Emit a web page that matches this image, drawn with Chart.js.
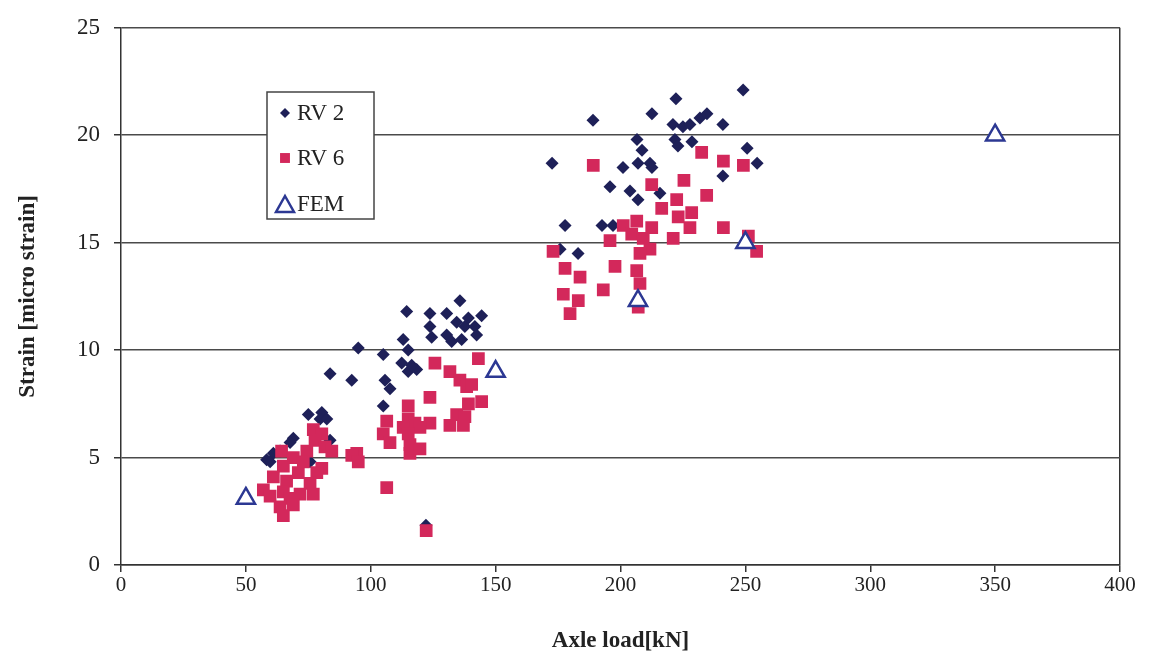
<!DOCTYPE html>
<html>
<head>
<meta charset="utf-8">
<title>Strain vs axle load</title>
<script src="https://cdn.jsdelivr.net/npm/chart.js@4/dist/chart.umd.min.js"></script>
<style>
  html, body { margin: 0; padding: 0; background: #fff; }
  #wrap { width: 1150px; height: 661px; position: relative; }
</style>
</head>
<body>
<div id="wrap"><canvas id="strainChart"></canvas></div>
<script>
// values
const rv2Load = [172.6, 189, 212.6, 222.2, 249.1, 221, 225, 227.8, 231.8, 234.6, 241, 206.6, 221.8, 223, 228.6, 208.6, 250.7, 254.7,
  201, 207, 211.8, 212.6, 241, 195.8, 203.8, 207, 215.8, 177.8, 192.6, 197, 183, 175.8,
  114.4, 123.7, 130.4, 135.7, 139.1, 144.4, 134.4, 137.7, 141.7, 123.7, 142.4, 113, 124.4, 130.4, 132.4, 136.4,
  95, 115, 105, 112.4, 115, 118.4, 116.4, 92.4, 105.7, 107.7, 105, 83.7,
  75, 80.4, 79.7, 82.4, 69, 67.7, 83.7, 61, 58.3, 63.7, 75.7, 59.7, 122.1];
const rv2Strain = [18.7, 20.7, 21.0, 21.7, 22.1, 20.5, 20.4, 20.5, 20.8, 21.0, 20.5, 19.8, 19.8, 19.5, 19.7, 19.3, 19.4, 18.7,
  18.5, 18.7, 18.7, 18.5, 18.1, 17.6, 17.4, 17.0, 17.3, 15.8, 15.8, 15.8, 14.5, 14.7,
  11.8, 11.7, 11.7, 12.3, 11.5, 11.6, 11.3, 11.1, 11.1, 11.1, 10.7, 10.5, 10.6, 10.7, 10.4, 10.5,
  10.1, 10.0, 9.8, 9.4, 9.0, 9.1, 9.3, 8.6, 8.6, 8.2, 7.4, 8.9,
  7.0, 7.1, 6.8, 6.8, 5.9, 5.7, 5.8, 5.2, 4.9, 5.3, 4.8, 4.8, 1.85];

const rv6Load = [189.1, 232.5, 241.2, 249.2, 212.5, 225.4, 234.5, 222.5, 216.5, 228.5, 223.1, 227.8, 241.2, 201.1, 206.5, 212.5,
  204.5, 209.1, 221.1, 195.8, 211.8, 207.8, 251.2, 254.5, 197.8, 206.5, 183.8, 177.8, 207.8, 193.1, 183.1, 177.1, 179.8, 207.1, 173,
  125.7, 143.1, 131.7, 135.7, 138.4, 140.4, 123.7, 144.4, 139.1, 115, 134.4, 137.7, 131.7, 137.1, 115, 106.4, 117.7, 123.7,
  113, 119.7, 105, 115, 107.7, 115.7, 94.4, 115.7, 119.7, 92.4, 95, 106.4, 122.2,
  77, 80.4, 77.7, 81.7, 74.4, 84.4, 64.3, 69, 65, 73, 80.4, 71, 78.4, 61, 66.3, 75.7, 57, 59.7, 65, 67.7, 71.7, 77, 63.7, 69, 65];
const rv6Strain = [18.6, 19.2, 18.8, 18.6, 17.7, 17.9, 17.2, 17.0, 16.6, 16.4, 16.2, 15.7, 15.7, 15.8, 16.0, 15.7,
  15.4, 15.2, 15.2, 15.1, 14.7, 14.5, 15.3, 14.6, 13.9, 13.7, 13.4, 13.8, 13.1, 12.8, 12.3, 12.6, 11.7, 12.0, 14.6,
  9.4, 9.6, 9.0, 8.6, 8.3, 8.4, 7.8, 7.6, 7.5, 7.4, 7.0, 6.9, 6.5, 6.5, 6.8, 6.7, 6.6, 6.6,
  6.4, 6.4, 6.1, 6.1, 5.7, 5.6, 5.2, 5.2, 5.4, 5.1, 4.8, 3.6, 1.6,
  6.3, 6.1, 5.8, 5.5, 5.3, 5.3, 5.3, 5.0, 4.6, 4.8, 4.5, 4.3, 4.3, 4.1, 3.9, 3.8, 3.5, 3.2, 3.4, 3.1, 3.3, 3.3, 2.7, 2.8, 2.3];

const femLoad = [50, 150, 207, 250, 350];
const femStrain = [3.1, 9.0, 12.3, 15.0, 20.0];

const xTicks = [0, 50, 100, 150, 200, 250, 300, 350, 400];
const yTicks = [0, 5, 10, 15, 20, 25];

const pairs = (xs, ys) => xs.map((x, i) => ({ x, y: ys[i] }));

const SERIF = '"Liberation Serif", "DejaVu Serif", serif';
const NAVY = '#1e2058';
const CRIMSON = '#d3285b';
const FEM_BLUE = '#2c3893';

// boxed legend sitting inside the plot, like the original
const boxLegend = {
  id: 'boxLegend',
  afterDraw(chart) {
    const ctx = chart.ctx;
    const left = 267, top = 92, w = 107, h = 127;
    ctx.save();
    ctx.fillStyle = '#fff';
    ctx.strokeStyle = '#444';
    ctx.lineWidth = 1.5;
    ctx.fillRect(left, top, w, h);
    ctx.strokeRect(left, top, w, h);
    const rows = [113, 158, 204];
    const sizes = [5, 7, 9];
    const mx = 285;
    chart.data.datasets.forEach((ds, i) => {
      const y = rows[i], r = sizes[i];
      ctx.fillStyle = ds.backgroundColor;
      ctx.strokeStyle = ds.borderColor;
      ctx.lineWidth = ds.borderWidth || 0;
      ctx.beginPath();
      if (ds.pointStyle === 'rectRot') {
        ctx.moveTo(mx, y - r); ctx.lineTo(mx + r, y); ctx.lineTo(mx, y + r); ctx.lineTo(mx - r, y); ctx.closePath();
        ctx.fill();
      } else if (ds.pointStyle === 'rect') {
        const s = r * Math.SQRT1_2;
        ctx.rect(mx - s, y - s, 2 * s, 2 * s);
        ctx.fill();
      } else {
        ctx.moveTo(mx, y - r + 1); ctx.lineTo(mx + r, y + r - 1); ctx.lineTo(mx - r, y + r - 1); ctx.closePath();
        ctx.fill();
        ctx.stroke();
      }
      ctx.fillStyle = '#222';
      ctx.font = '23px ' + SERIF;
      ctx.textBaseline = 'middle';
      ctx.textAlign = 'left';
      ctx.fillText(ds.label, 297, y + 1);
    });
    ctx.restore();
  }
};

new Chart(document.getElementById('strainChart'), {
  type: 'scatter',
  data: {
    datasets: [
      { label: 'RV 2', data: pairs(rv2Load, rv2Strain), pointStyle: 'rectRot', pointRadius: 6.5,
        backgroundColor: NAVY, borderColor: NAVY, borderWidth: 0, order: 2 },
      { label: 'RV 6', data: pairs(rv6Load, rv6Strain), pointStyle: 'rect', pointRadius: 9,
        backgroundColor: CRIMSON, borderColor: CRIMSON, borderWidth: 0, order: 1 },
      { label: 'FEM', data: pairs(femLoad, femStrain), pointStyle: 'triangle', pointRadius: 10.5,
        backgroundColor: '#fff', borderColor: FEM_BLUE, borderWidth: 2.5, order: 0 }
    ]
  },
  options: {
    responsive: true,
    maintainAspectRatio: false,
    animation: false,
    layout: { padding: { top: 22, right: 30, left: 0, bottom: 0 } },
    plugins: { legend: { display: false }, tooltip: { enabled: false } },
    scales: {
      x: {
        type: 'linear', min: 0, max: 400,
        afterBuildTicks: (s) => { s.ticks = xTicks.map(v => ({ value: v })); },
        afterFit: (s) => { s.height = 96; },
        ticks: { color: '#222', padding: 1, font: { family: SERIF, size: 21 } },
        grid: {
          drawOnChartArea: true, drawTicks: true, tickLength: 7, tickColor: '#333',
          color: (c) => (c.tick && c.tick.value === 400 ? '#333' : 'rgba(0,0,0,0)'),
          lineWidth: 1.5
        },
        border: { color: '#333', width: 1.5 },
        title: { display: true, text: 'Axle load[kN]', color: '#222', padding: { top: 0, bottom: 6 },
          font: { family: SERIF, size: 23, weight: 'bold' } }
      },
      y: {
        type: 'linear', min: 0, max: 25,
        afterBuildTicks: (s) => { s.ticks = yTicks.map(v => ({ value: v })); },
        afterFit: (s) => { s.width = 121; },
        ticks: { color: '#222', padding: 14, font: { family: SERIF, size: 23 } },
        grid: { color: '#4a4a4a', lineWidth: 1.5, tickLength: 7, tickColor: '#333' },
        border: { color: '#333', width: 1.5 },
        title: { display: true, text: 'Strain [micro strain]', color: '#222', padding: { top: 14, bottom: 0 },
          font: { family: SERIF, size: 23, weight: 'bold' } }
      }
    }
  },
  plugins: [boxLegend]
});
</script>
</body>
</html>
